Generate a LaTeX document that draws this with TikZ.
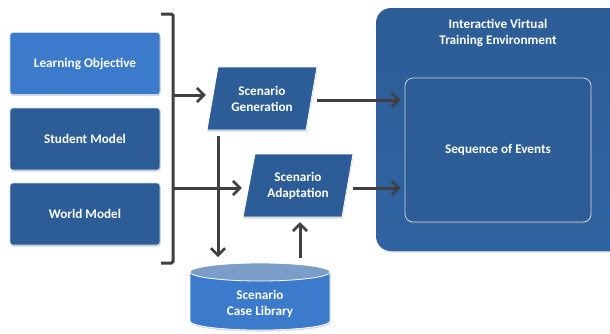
\documentclass[tikz,border=0pt]{standalone}
\usepackage{fontspec}
\setmainfont{Carlito}
\usetikzlibrary{arrows.meta,shadows,calc,backgrounds}
\definecolor{lightblue}{HTML}{3C7BCB}
\definecolor{darkblue}{HTML}{2D5D97}
\definecolor{cyltop}{HTML}{7C9DC7}
\definecolor{arrowgray}{HTML}{404040}
\definecolor{edgeblue}{HTML}{C9D7EB}
\tikzset{
  txt/.style={text=white,font=\fontsize{13.2}{16}\selectfont\bfseries,align=center},
  inbox/.style={txt,rounded corners=3pt,draw=edgeblue,line width=0.7pt,minimum width=150pt,minimum height=62pt,
    drop shadow={shadow xshift=0.6pt,shadow yshift=-1.6pt,opacity=0.3}},
  para/.style={fill=darkblue,draw=white,line width=0.8pt,drop shadow={shadow xshift=0.6pt,shadow yshift=-1.6pt,opacity=0.3}},
  arr/.style={draw=arrowgray,line width=3pt,-{Straight Barb[length=7pt,width=14pt,line width=2.6pt]}},
  brk/.style={draw=arrowgray,line width=3pt,rounded corners=1.5pt},
}
\begin{document}
\begin{tikzpicture}[x=1pt,y=-1pt]
\useasboundingbox (0,0) rectangle (610,333);
\clip (0,0) rectangle (610,333);
% input boxes
\node[inbox,fill=lightblue] (lo) at (85,63.5) {Learning Objective};
\node[inbox,fill=darkblue] (sm) at (85,139) {Student Model};
\node[inbox,fill=darkblue] (wm) at (85,214) {World Model};
% bracket
\coordinate (bt) at (161,14);
\coordinate (bb) at (161,263);
\draw[brk] (bt) -- (173,14) -- (173,263) -- (bb);
\coordinate (b1) at (172,95);
\coordinate (b2) at (172,188);
% big environment box
\shade[top color=darkblue,bottom color=darkblue!80!lightblue,rounded corners=15pt,
  drop shadow={shadow xshift=0.6pt,shadow yshift=-1.6pt,opacity=0.3}]
  (376,8) rectangle (640,251);
\node[txt] (env) at (498,33) {Interactive Virtual\\Training Environment};
\node[txt,draw=edgeblue,line width=0.8pt,rounded corners=8pt,fill=darkblue,
  minimum width=186pt,minimum height=144pt,
  drop shadow={shadow xshift=0.6pt,shadow yshift=-1.6pt,opacity=0.3}] (seq) at (498,150) {Sequence of Events};
% parallelograms
\path[para] (218,67) -- (317,67) -- (306,130) -- (207,130) -- cycle;
\node[txt,minimum width=110pt,minimum height=63pt,inner sep=0pt] (gen) at (262,98.5) {Scenario\\Generation};
\path[para] (255,154) -- (353,154) -- (342,217) -- (243,217) -- cycle;
\node[txt,minimum width=110pt,minimum height=63pt,inner sep=0pt] (adp) at (298,185.5) {Scenario\\Adaptation};
% cylinder
\fill[lightblue,drop shadow={shadow xshift=0.6pt,shadow yshift=-1.6pt,opacity=0.3}]
  (190,272) -- (190,321) arc[start angle=180,end angle=360,x radius=70pt,y radius=9pt] -- (330,272) -- cycle;
\draw[white,line width=0.7pt] (190,272) -- (190,321) arc[start angle=180,end angle=360,x radius=70pt,y radius=9pt] -- (330,272);
\fill[cyltop,draw=white,line width=0.8pt] (260,272) ellipse [x radius=70pt,y radius=9pt];
\node[txt,minimum width=140pt,minimum height=40pt] (lib) at (260,303.5) {Scenario\\Case Library};
\coordinate (libtop) at (260,263);
% connectors
\draw[arr,shorten >=1pt] (b1) -- (b1 -| gen.west);
\draw[arr,shorten >=1pt] (b2) -- (b2 -| adp.west);
\draw[arr,shorten <=6pt,shorten >=6pt] (gen.south -| 218,0) -- (libtop -| 218,0);
\draw[arr,shorten <=5pt,shorten >=5pt] (libtop -| 300,0) -- (adp.south -| 300,0);
\draw[arr,shorten >=4pt] (gen.east |- 0,100) -- (seq.west |- 0,100);
\draw[arr,shorten >=4pt] (adp.east |- 0,188) -- (seq.west |- 0,188);
\end{tikzpicture}
\end{document}
